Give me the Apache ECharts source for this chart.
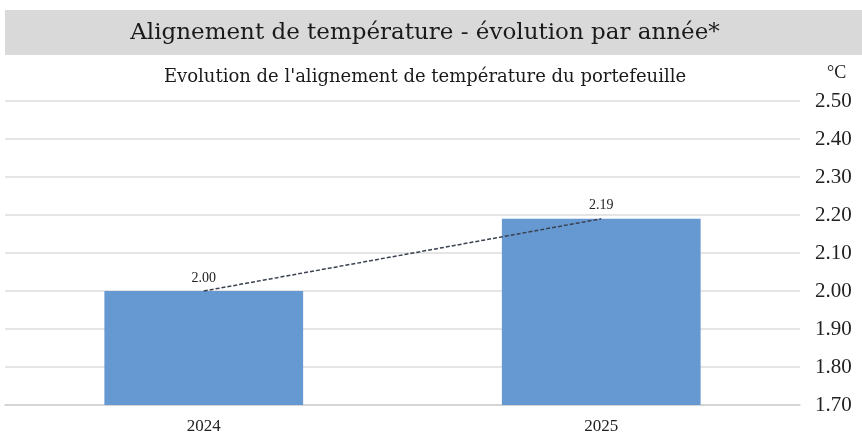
<!DOCTYPE html>
<html>
<head>
<meta charset="utf-8">
<script src="https://cdn.jsdelivr.net/npm/echarts@6/dist/echarts.min.js"></script>
<style>
  html, body { margin: 0; padding: 0; background: #fff; }
  #chart { width: 862px; height: 435px; }
</style>
</head>
<body>
<div id="chart"></div>
<script>
var years = ['2024', '2025'];
var alignment = [2.00, 2.19];
var axisMin = 1.7, axisMax = 2.5, axisStep = 0.1;

var serif = '"Liberation Serif", "DejaVu Serif", serif';
var wideSerif = '"DejaVu Serif", serif';
var myChart = echarts.init(document.getElementById('chart'));
var option = {
    animation: false,
    graphic: [
        {
            type: 'rect',
            shape: { x: 5, y: 10, width: 857, height: 45 },
            style: { fill: '#d9d9d9' },
            silent: true
        },
        {
            type: 'text',
            x: 425, y: 33,
            style: {
                text: 'Alignement de température - évolution par année*',
                font: '23px ' + wideSerif,
                fill: '#1a1a1a',
                textAlign: 'center',
                textVerticalAlign: 'middle'
            }
        },
        {
            type: 'text',
            x: 425, y: 77,
            style: {
                text: "Evolution de l'alignement de température du portefeuille",
                font: '18px ' + wideSerif,
                fill: '#1a1a1a',
                textAlign: 'center',
                textVerticalAlign: 'middle'
            }
        }
    ],
    grid: { left: 5, right: 62, top: 101, bottom: 30 },
    xAxis: {
        type: 'category',
        data: years,
        axisLine: { lineStyle: { color: '#d0d0d0', width: 1.5 } },
        axisTick: { show: false },
        axisLabel: { color: '#222', fontSize: 17, fontFamily: serif, margin: 13 }
    },
    yAxis: {
        type: 'value',
        position: 'right',
        min: axisMin,
        max: axisMax,
        interval: axisStep,
        name: '°C',
        nameGap: 19,
        nameTextStyle: { color: '#222', fontSize: 18, fontFamily: serif, align: 'left', padding: [0, 0, 0, 27] },
        axisLine: { show: false },
        axisTick: { show: false },
        splitLine: { lineStyle: { color: '#dcdcdc', width: 1.5 } },
        axisLabel: {
            color: '#222', fontSize: 21, fontFamily: serif, margin: 15,
            formatter: function (v) { return v.toFixed(2); }
        }
    },
    series: [
        {
            type: 'bar',
            data: alignment,
            barWidth: '50%',
            itemStyle: { color: '#6699d2' },
            label: {
                show: true,
                position: 'top',
                distance: 6,
                color: '#222',
                fontSize: 14,
                fontFamily: serif,
                formatter: function (p) { return p.value.toFixed(2); }
            }
        },
        {
            type: 'line',
            data: alignment,
            symbol: 'none',
            lineStyle: { color: '#3a4150', width: 1.5, type: [4, 2] },
            z: 5
        }
    ]
};
myChart.setOption(option);
</script>
</body>
</html>
